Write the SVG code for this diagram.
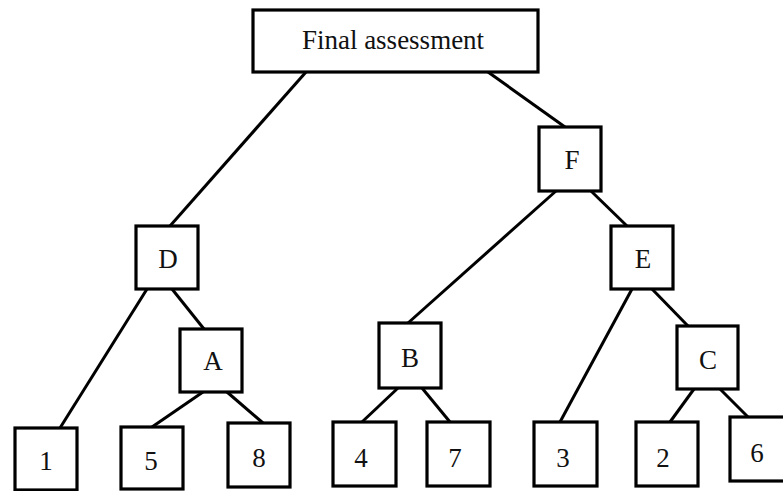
<svg xmlns="http://www.w3.org/2000/svg" width="783" height="491" viewBox="0 0 783 491">
<style>
.box{fill:#fff;stroke:#000;stroke-width:3.2}
.lbl{font-family:"Liberation Serif","Times New Roman",serif;font-size:27px;fill:#111;text-anchor:middle}
.edge{stroke:#000;stroke-width:3;fill:none}
</style>
<rect width="783" height="491" fill="#fff"/>
<g id="connectors">
<line class="edge" x1="306" y1="72" x2="170" y2="226"/>
<line class="edge" x1="488" y1="72" x2="565" y2="127"/>
<line class="edge" x1="147" y1="289" x2="60" y2="428"/>
<line class="edge" x1="172" y1="289" x2="204" y2="329"/>
<line class="edge" x1="203" y1="392" x2="152" y2="427"/>
<line class="edge" x1="227" y1="392" x2="263" y2="423"/>
<line class="edge" x1="556" y1="191" x2="408" y2="323"/>
<line class="edge" x1="591" y1="191" x2="627" y2="226"/>
<line class="edge" x1="398" y1="388" x2="362" y2="422"/>
<line class="edge" x1="422" y1="388" x2="450" y2="422"/>
<line class="edge" x1="632" y1="289" x2="560" y2="422"/>
<line class="edge" x1="652" y1="289" x2="688" y2="326"/>
<line class="edge" x1="694" y1="389" x2="670" y2="422"/>
<line class="edge" x1="720" y1="389" x2="748" y2="417"/>
</g>
<g id="final"><rect class="box" x="253" y="10" width="285" height="62"/><text class="lbl" x="393" y="49">Final assessment</text></g>
<g id="D"><rect class="box" x="136" y="226" width="62" height="63"/><text class="lbl" x="168" y="268">D</text></g>
<g id="A"><rect class="box" x="180" y="329" width="62" height="63"/><text class="lbl" x="213" y="370">A</text></g>
<g id="F"><rect class="box" x="539" y="127" width="62" height="64"/><text class="lbl" x="572" y="169">F</text></g>
<g id="E"><rect class="box" x="611" y="226" width="62" height="63"/><text class="lbl" x="643" y="268">E</text></g>
<g id="B"><rect class="box" x="379" y="323" width="62" height="65"/><text class="lbl" x="410" y="367">B</text></g>
<g id="C"><rect class="box" x="677" y="326" width="61" height="63"/><text class="lbl" x="708" y="369">C</text></g>
<g id="n1"><rect class="box" x="15" y="428" width="62" height="62"/><text class="lbl" x="46" y="470">1</text></g>
<g id="n5"><rect class="box" x="121" y="427" width="62" height="62"/><text class="lbl" x="151" y="470">5</text></g>
<g id="n8"><rect class="box" x="228" y="423" width="62" height="64"/><text class="lbl" x="259" y="467">8</text></g>
<g id="n4"><rect class="box" x="333" y="422" width="63" height="64"/><text class="lbl" x="361" y="467">4</text></g>
<g id="n7"><rect class="box" x="427" y="422" width="63" height="64"/><text class="lbl" x="455" y="467">7</text></g>
<g id="n3"><rect class="box" x="534" y="422" width="63" height="64"/><text class="lbl" x="563" y="467">3</text></g>
<g id="n2"><rect class="box" x="636" y="422" width="62" height="64"/><text class="lbl" x="663" y="467">2</text></g>
<g id="n6"><rect class="box" x="730" y="417" width="62" height="64"/><text class="lbl" x="757" y="462">6</text></g>
</svg>
